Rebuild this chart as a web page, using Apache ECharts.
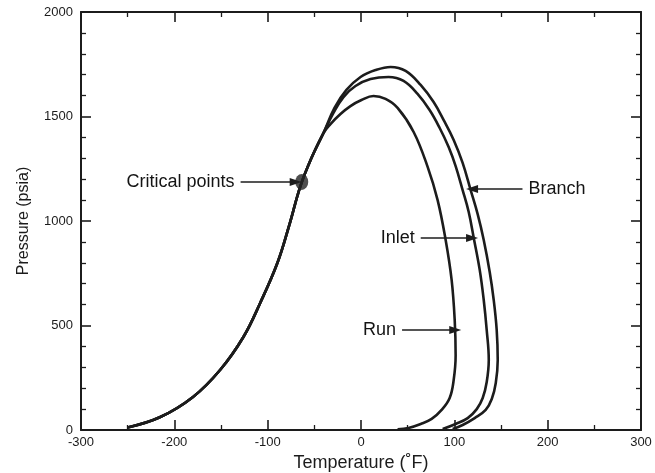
<!DOCTYPE html>
<html><head><meta charset="utf-8">
<script src="https://cdn.jsdelivr.net/npm/echarts@6/dist/echarts.min.js"></script>
<style>html,body{margin:0;padding:0;background:#fff}#c{width:655px;height:473px}</style>
</head><body><div id="c"></div>
<script>
// Shared lower (bubble-point) part of the envelopes, up to where they split
const lowerCurve = [[-250,12],[-215,62],[-180,158],[-151,287],[-126,445],[-108,608],[-89.6,799],[-77,978],[-64.9,1167],[-53.1,1301],[-40.2,1421]];
// Upper / right parts of each envelope
const runUpper = [[-32.7,1464],[-22,1512],[-11.3,1550],[0.5,1579],[13.4,1598],[26.3,1584],[39.2,1541],[56.4,1426],[71.4,1259],[82.1,1100],[90.7,909],[97.1,718],[100.4,526],[101.4,359],[99.3,239],[95,153],[86.4,96],[75.7,53],[63.9,29],[51,10],[39.2,3]];
const inletUpper = [[-29.5,1517],[-18.8,1593],[-5.9,1646],[10.2,1679],[29.5,1689],[45.6,1670],[60.6,1608],[73.5,1531],[84.3,1445],[93.9,1354],[101.4,1263],[108.9,1148],[115.4,1043],[120.8,919],[127.2,766],[131.5,622],[134.7,478],[136.9,335],[134.7,230],[130.4,153],[124,100],[114.3,57],[101.4,29],[87.5,5]];
const branchUpper = [[-28.4,1541],[-15.6,1627],[-0.5,1689],[15.6,1722],[31.7,1737],[47.8,1718],[63.9,1651],[77.8,1569],[88.6,1483],[99.3,1388],[108.9,1278],[117.5,1148],[125,1033],[131.5,909],[137.9,756],[142.2,622],[145.4,478],[146.5,335],[144.4,225],[140.1,148],[133.6,96],[121.8,57],[108.9,24],[98.2,5]];
const criticalPoint = [[-63.5,1187]];
// Annotations
const annotationText = ['Critical points','Branch','Inlet','Run'];
const arrowFrom = [[-129,1187],[173,1153],[64,919],[44,478]];
const arrowTo = [[-70,1187],[119,1153],[119,919],[101,478]];
// Axes
const xRange = [-300,300], xStep = 100;
const yRange = [0,2000], yStep = 500;
const xTitle = 'Temperature (\u02daF)';
const yTitle = 'Pressure (psia)';

const ink = '#1c1c1c';
const font = "'Liberation Sans', Arial, Helvetica, sans-serif";
const chart = echarts.init(document.getElementById('c'), null, {renderer:'canvas'});

const axisLine = {show:true, onZero:false, lineStyle:{color:ink, width:2}};
const axisTick = {show:true, inside:true, length:10, lineStyle:{color:ink, width:1.6}};
function minor(n){ return {show:true, splitNumber:n, length:5, lineStyle:{color:ink, width:1.3}}; }
const curveStyle = {color:ink, width:2.6};
function curve(name, upper){
  return {name, type:'line', data: lowerCurve.concat(upper), smooth:0.4, showSymbol:false,
    lineStyle:curveStyle, itemStyle:{color:ink}, silent:true, z:3};
}
const markData = annotationText.map((t,i)=>[
  {coord:arrowFrom[i], symbol:'none', label:{show:true, formatter:t, position:'start', distance:6,
    fontFamily:font, fontSize:18, color:'#141414'}},
  {coord:arrowTo[i], symbol:'triangle', symbolSize:[8,12]}
]);

chart.setOption({
  animation:false,
  backgroundColor:'#fff',
  grid:{left:81, right:14, top:12, bottom:43, containLabel:false, outerBoundsMode:'none'},
  xAxis:[
    {type:'value', position:'bottom', min:xRange[0], max:xRange[1], interval:xStep,
      axisLine, axisTick, minorTick:minor(2), splitLine:{show:false},
      axisLabel:{color:ink, fontSize:13, fontFamily:font, margin:6},
      name:xTitle, nameLocation:'middle', nameGap:24,
      nameTextStyle:{color:ink, fontSize:18, fontFamily:font}},
    {type:'value', position:'top', min:xRange[0], max:xRange[1], interval:xStep,
      axisLine, axisTick, minorTick:minor(2), splitLine:{show:false}, axisLabel:{show:false}}
  ],
  yAxis:[
    {type:'value', position:'left', min:yRange[0], max:yRange[1], interval:yStep,
      axisLine, axisTick, minorTick:minor(5), splitLine:{show:false},
      axisLabel:{color:ink, fontSize:13, fontFamily:font, margin:8, formatter:v=>String(v)},
      name:yTitle, nameLocation:'middle', nameGap:49,
      nameTextStyle:{color:ink, fontSize:16, fontFamily:font}},
    {type:'value', position:'right', min:yRange[0], max:yRange[1], interval:yStep,
      axisLine, axisTick, minorTick:minor(5), splitLine:{show:false}, axisLabel:{show:false}}
  ],
  series:[
    curve('Run', runUpper),
    curve('Inlet', inletUpper),
    curve('Branch', branchUpper),
    {name:'Critical points', type:'scatter', data:criticalPoint, symbol:'circle', symbolSize:[13,16],
      itemStyle:{color:'#222'}, silent:true, z:5},
    {name:'annotations', type:'line', data:[], silent:true,
      markLine:{silent:true, animation:false,
        lineStyle:{color:ink, width:1.6, type:'solid'}, data:markData}}
  ]
});
</script></body></html>
